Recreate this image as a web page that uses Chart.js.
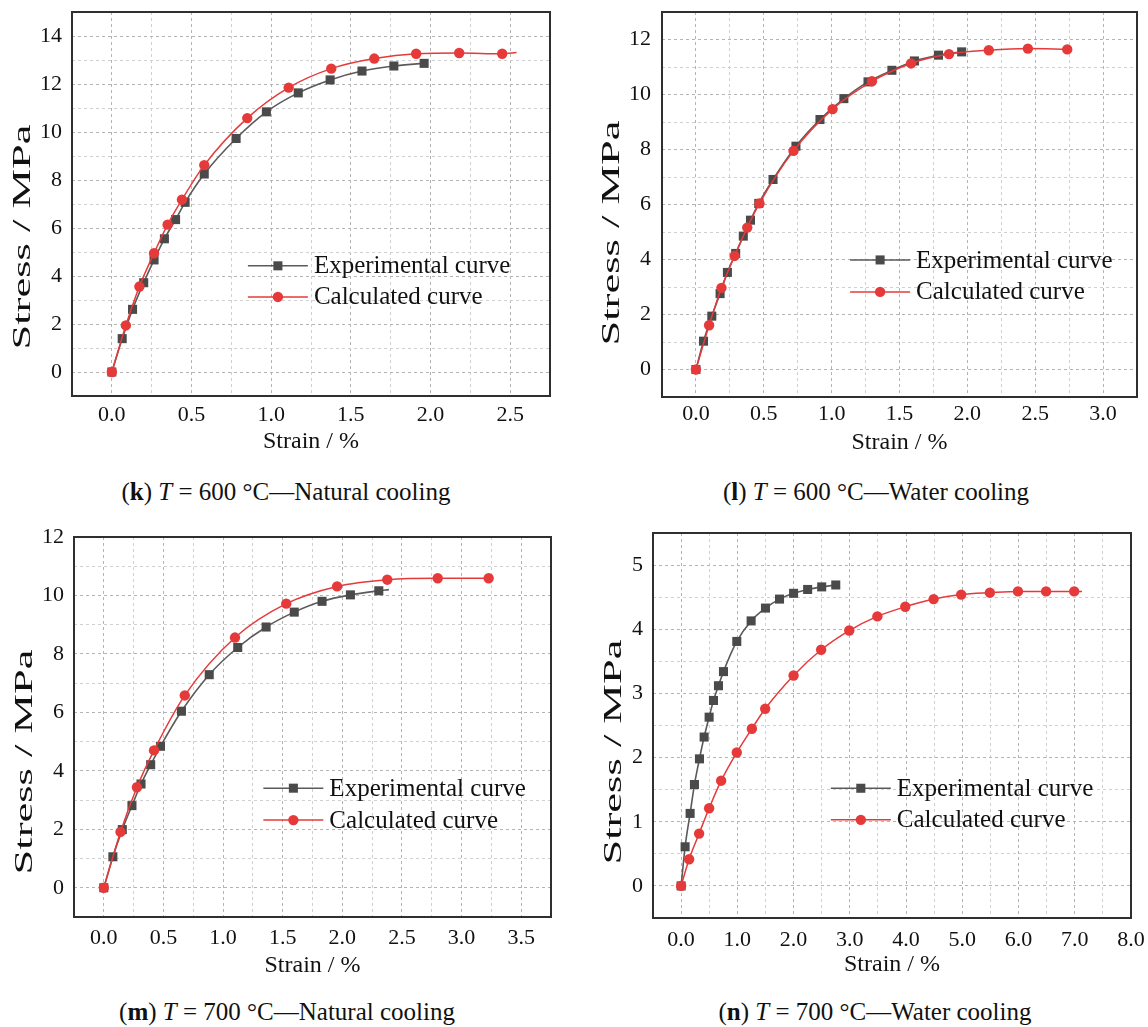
<!DOCTYPE html>
<html>
<head>
<meta charset="utf-8">
<title>Stress–strain curves at 600 °C and 700 °C</title>
<script src="https://cdn.jsdelivr.net/npm/chart.js@4.4.1/dist/chart.umd.min.js"></script>
<style>
  html, body { margin: 0; padding: 0; background: #fff; }
  body { width: 1148px; height: 1027px; position: relative; overflow: hidden;
         font-family: "Liberation Serif", "Times New Roman", serif; color: #111; }
  canvas { position: absolute; }
  .cap { position: absolute; width: 560px; text-align: center; font-size: 25px;
         line-height: 30px; white-space: nowrap; color: #111; }
</style>
</head>
<body>
<canvas id="chartK" width="560" height="460" style="left:0px;top:0px"></canvas>
<canvas id="chartL" width="560" height="460" style="left:588px;top:0px"></canvas>
<canvas id="chartM" width="560" height="460" style="left:0px;top:525px"></canvas>
<canvas id="chartN" width="560" height="460" style="left:588px;top:525px"></canvas>

<div class="cap" style="left:6px;top:477px">(<b>k</b>) <i>T</i> = 600 °C—Natural cooling</div>
<div class="cap" style="left:596px;top:477px">(<b>l</b>) <i>T</i> = 600 °C—Water cooling</div>
<div class="cap" style="left:7px;top:997px">(<b>m</b>) <i>T</i> = 700 °C—Natural cooling</div>
<div class="cap" style="left:595px;top:997px">(<b>n</b>) <i>T</i> = 700 °C—Water cooling</div>

<script>
// ---- Series data (strain in %, stress in MPa) ----
// (k) 600 °C, natural cooling
const kExpStrain  = [0, 0.065, 0.13, 0.20, 0.265, 0.33, 0.40, 0.46, 0.58, 0.78, 0.97, 1.17, 1.37, 1.57, 1.77, 1.96];
const kExpStress  = [0, 1.39, 2.61, 3.72, 4.67, 5.55, 6.35, 7.07, 8.25, 9.73, 10.84, 11.63, 12.17, 12.54, 12.75, 12.86];
const kCalcStrain = [0, 0.088, 0.173, 0.265, 0.35, 0.44, 0.58, 0.85, 1.11, 1.377, 1.647, 1.91, 2.18, 2.45, 2.54];
const kCalcStress = [0, 1.94, 3.56, 4.95, 6.14, 7.18, 8.62, 10.58, 11.85, 12.64, 13.06, 13.26, 13.29, 13.26, 13.31];

// (l) 600 °C, water cooling
const lExpStrain  = [0, 0.056, 0.117, 0.178, 0.232, 0.293, 0.349, 0.402, 0.463, 0.568, 0.737, 0.914, 1.09, 1.268, 1.444, 1.61, 1.787, 1.958];
const lExpStress  = [0, 1.03, 1.94, 2.76, 3.53, 4.22, 4.85, 5.43, 6.04, 6.91, 8.12, 9.09, 9.85, 10.46, 10.88, 11.22, 11.43, 11.55];
const lCalcStrain = [0, 0.097, 0.188, 0.285, 0.378, 0.468, 0.719, 1.007, 1.297, 1.585, 1.865, 2.158, 2.446, 2.736];
const lCalcStress = [0, 1.61, 2.97, 4.13, 5.16, 6.04, 7.95, 9.47, 10.48, 11.13, 11.47, 11.61, 11.67, 11.64];

// (m) 700 °C, natural cooling
const mExpStrain  = [0, 0.076, 0.155, 0.236, 0.312, 0.393, 0.475, 0.651, 0.884, 1.123, 1.361, 1.597, 1.83, 2.068, 2.306, 2.39];
const mExpStress  = [0, 1.06, 1.99, 2.81, 3.55, 4.21, 4.84, 6.04, 7.29, 8.22, 8.92, 9.43, 9.80, 10.02, 10.16, 10.20];
const mCalcStrain = [0, 0.14, 0.278, 0.421, 0.679, 1.10, 1.53, 1.956, 2.377, 2.80, 3.227];
const mCalcStress = [0, 1.91, 3.44, 4.70, 6.58, 8.56, 9.72, 10.31, 10.54, 10.59, 10.59];

// (n) 700 °C, water cooling
const nExpStrain  = [0, 0.071, 0.16, 0.237, 0.326, 0.409, 0.498, 0.575, 0.664, 0.753, 0.99, 1.245, 1.50, 1.75, 2.0, 2.25, 2.50, 2.75];
const nExpStress  = [0, 0.61, 1.13, 1.58, 1.98, 2.32, 2.63, 2.89, 3.12, 3.34, 3.81, 4.13, 4.33, 4.47, 4.56, 4.62, 4.66, 4.69];
const nCalcStrain = [0, 0.142, 0.32, 0.498, 0.712, 0.99, 1.258, 1.495, 2.0, 2.49, 2.99, 3.49, 3.986, 4.49, 4.98, 5.49, 5.99, 6.49, 6.99, 7.13];
const nCalcStress = [0, 0.415, 0.815, 1.21, 1.64, 2.08, 2.45, 2.76, 3.28, 3.68, 3.98, 4.20, 4.35, 4.47, 4.54, 4.57, 4.59, 4.59, 4.59, 4.59];

// Series names and axis titles
const seriesNames = ['Experimental curve', 'Calculated curve'];
const xAxisTitle = 'Strain / %';
const yAxisTitle = 'Stress / MPa';

// ---- Styling ----
const SERIF = '"Liberation Serif", "Times New Roman", serif';
const TEXT = '#111111';
const EXP_COLOR = '#4a4a4a';
const EXP_LINE = '#5a5a5a';
const CALC_COLOR = '#e63a3a';
const GRID_MAJOR = '#b4b4b4';
const GRID_MINOR = '#d0d0d0';

const points = (xs, ys) => xs.map((x, i) => ({ x: x, y: ys[i] }));
const onStep = (v, step) => Math.abs(v / step - Math.round(v / step)) < 1e-6;

// Closed frame around the plotting area
const framePlugin = {
  id: 'frame',
  beforeDatasetsDraw(chart) {
    const { ctx, chartArea: a } = chart;
    ctx.save();
    ctx.strokeStyle = '#2f2f2f';
    ctx.lineWidth = 2;
    ctx.strokeRect(a.left, a.top, a.right - a.left, a.bottom - a.top);
    ctx.restore();
  }
};

// Legend drawn inside the plotting area, using each dataset's own style
const insideLegend = {
  id: 'insideLegend',
  afterDatasetsDraw(chart, args, opts) {
    const { ctx, chartArea: a } = chart;
    const x0 = a.left + opts.x * (a.right - a.left);
    chart.data.datasets.forEach((ds, i) => {
      const y = a.top + opts.rows[i] * (a.bottom - a.top);
      const mx = x0 + opts.len / 2;
      ctx.save();
      ctx.strokeStyle = ds.borderColor;
      ctx.lineWidth = ds.borderWidth;
      ctx.beginPath();
      ctx.moveTo(x0, y);
      ctx.lineTo(x0 + opts.len, y);
      ctx.stroke();
      ctx.fillStyle = ds.pointBackgroundColor;
      if (ds.pointStyle === 'rect') {
        const h = ds.markerSize * Math.SQRT1_2;
        ctx.fillRect(mx - h, y - h, 2 * h, 2 * h);
      } else {
        ctx.beginPath();
        ctx.arc(mx, y, ds.markerSize, 0, Math.PI * 2);
        ctx.fill();
      }
      ctx.fillStyle = TEXT;
      ctx.font = '25px ' + SERIF;
      ctx.textAlign = 'left';
      ctx.textBaseline = 'middle';
      ctx.fillText(ds.label, x0 + opts.len + opts.gap, y + 1);
      ctx.restore();
    });
  }
};

// Vertical axis title, set in a tall, narrow face beside the tick labels
const yTitlePlugin = {
  id: 'yTitle',
  afterDraw(chart, args, opts) {
    const { ctx, chartArea: a } = chart;
    ctx.save();
    ctx.translate(opts.x, a.top + opts.y * (a.bottom - a.top));
    ctx.rotate(-Math.PI / 2);
    ctx.scale(opts.stretch, 1);
    ctx.font = '25px ' + SERIF;
    ctx.fillStyle = TEXT;
    ctx.textAlign = 'center';
    ctx.textBaseline = 'middle';
    ctx.fillText(opts.text, 0, 0);
    ctx.restore();
  }
};

function makePanel(id, p) {
  const expSet = {
    label: seriesNames[0],
    data: points(p.expX, p.expY),
    borderColor: EXP_LINE,
    pointBackgroundColor: EXP_COLOR,
    backgroundColor: EXP_COLOR,
    borderWidth: 1.6,
    pointStyle: 'rect',
    markerSize: 6.4,
    pointRadius: c => (c.dataIndex < p.expMarked ? 6.4 : 0),
    pointBorderWidth: 0,
    cubicInterpolationMode: 'monotone',
    fill: false,
    clip: false,
    order: 1
  };
  const calcSet = {
    label: seriesNames[1],
    data: points(p.calcX, p.calcY),
    borderColor: CALC_COLOR,
    pointBackgroundColor: CALC_COLOR,
    backgroundColor: CALC_COLOR,
    borderWidth: 1.5,
    pointStyle: 'circle',
    markerSize: 5.2,
    pointRadius: c => (c.dataIndex < p.calcMarked ? 5.2 : 0),
    pointBorderWidth: 0,
    cubicInterpolationMode: 'monotone',
    fill: false,
    clip: false,
    order: 0
  };

  return new Chart(document.getElementById(id), {
    type: 'line',
    data: { datasets: [expSet, calcSet] },
    plugins: [framePlugin, insideLegend, yTitlePlugin],
    options: {
      responsive: false,
      animation: false,
      events: [],
      layout: { padding: p.pad },
      plugins: {
        legend: { display: false },
        tooltip: { enabled: false },
        insideLegend: { x: p.legX, rows: p.legRows, len: 60, gap: 6 },
        yTitle: { text: yAxisTitle, x: p.yTitleX, y: p.yTitleY, stretch: 1.78 }
      },
      scales: {
        x: {
          type: 'linear',
          min: p.xMin, max: p.xMax,
          afterFit: s => { s.height = p.xH; s.paddingLeft = 0; s.paddingRight = 0; },
          grid: {
            drawTicks: false,
            lineWidth: 1,
            color: c => (c.tick && onStep(c.tick.value, p.xMajor) ? GRID_MAJOR : GRID_MINOR)
          },
          border: { display: false, dash: [3, 3] },
          ticks: {
            stepSize: p.xStep,
            autoSkip: false,
            maxRotation: 0,
            padding: p.xPad,
            color: TEXT,
            font: { family: SERIF, size: 22 },
            callback: v => (v >= 0 && onStep(v, p.xMajor) ? v.toFixed(1) : '')
          },
          title: {
            display: true,
            text: xAxisTitle,
            color: TEXT,
            font: { family: SERIF, size: 24 },
            padding: { top: 0, bottom: p.xTitlePad }
          }
        },
        y: {
          type: 'linear',
          min: p.yMin, max: p.yMax,
          afterFit: s => { s.width = p.yW; s.paddingTop = 0; s.paddingBottom = 0; },
          grid: {
            drawTicks: false,
            lineWidth: 1,
            color: c => (c.tick && onStep(c.tick.value, p.yMajor) ? GRID_MAJOR : GRID_MINOR)
          },
          border: { display: false, dash: [3, 3] },
          ticks: {
            stepSize: p.yStep,
            autoSkip: false,
            padding: p.yPad,
            color: TEXT,
            font: { family: SERIF, size: 22 },
            callback: v => (v >= 0 && onStep(v, p.yMajor) ? v.toFixed(0) : '')
          }
        }
      }
    }
  });
}

makePanel('chartK', {
  expX: kExpStrain, expY: kExpStress, expMarked: kExpStrain.length,
  calcX: kCalcStrain, calcY: kCalcStress, calcMarked: kCalcStrain.length - 1,
  xMin: -0.25, xMax: 2.75, xStep: 0.25, xMajor: 0.5,
  yMin: -1, yMax: 15, yStep: 1, yMajor: 2,
  pad: { left: 0, top: 12, right: 10, bottom: 0 },
  yW: 72, xH: 64, xPad: 6, yPad: 10, xTitlePad: 4,
  yTitleX: 23, yTitleY: 0.586,
  legX: 0.368, legRows: [0.661, 0.742]
});

makePanel('chartL', {
  expX: lExpStrain, expY: lExpStress, expMarked: lExpStrain.length,
  calcX: lCalcStrain, calcY: lCalcStress, calcMarked: lCalcStrain.length,
  xMin: -0.25, xMax: 3.25, xStep: 0.25, xMajor: 0.5,
  yMin: -1, yMax: 13, yStep: 1, yMajor: 2,
  pad: { left: 0, top: 12, right: 11, bottom: 0 },
  yW: 74, xH: 63, xPad: 4, yPad: 11, xTitlePad: 3,
  yTitleX: 24, yTitleY: 0.574,
  legX: 0.396, legRows: [0.644, 0.727]
});

makePanel('chartM', {
  expX: mExpStrain, expY: mExpStress, expMarked: mExpStrain.length - 1,
  calcX: mCalcStrain, calcY: mCalcStress, calcMarked: mCalcStrain.length,
  xMin: -0.25, xMax: 3.75, xStep: 0.25, xMajor: 0.5,
  yMin: -1, yMax: 12, yStep: 1, yMajor: 2,
  pad: { left: 0, top: 12, right: 9, bottom: 0 },
  yW: 74, xH: 68, xPad: 8, yPad: 10, xTitlePad: 5,
  yTitleX: 25, yTitleY: 0.592,
  legX: 0.397, legRows: [0.661, 0.745]
});

makePanel('chartN', {
  expX: nExpStrain, expY: nExpStress, expMarked: nExpStrain.length,
  calcX: nCalcStrain, calcY: nCalcStress, calcMarked: nCalcStrain.length - 1,
  xMin: -0.5, xMax: 8, xStep: 0.5, xMajor: 1,
  yMin: -0.5, yMax: 5.5, yStep: 0.5, yMajor: 1,
  pad: { left: 0, top: 8, right: 17, bottom: 0 },
  yW: 65, xH: 67, xPad: 9, yPad: 10, xTitlePad: 6,
  yTitleX: 26, yTitleY: 0.569,
  legX: 0.372, legRows: [0.663, 0.745]
});
</script>
</body>
</html>
